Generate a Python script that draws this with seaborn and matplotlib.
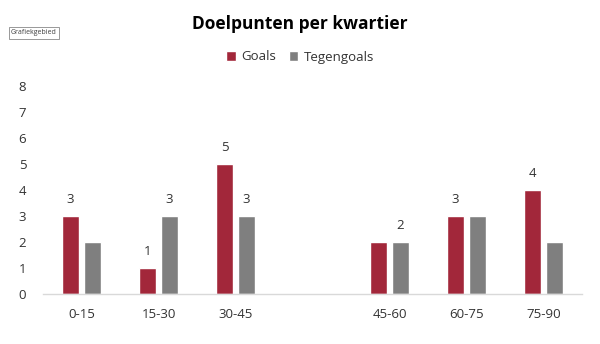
import matplotlib
matplotlib.use("Agg")
import matplotlib.pyplot as plt
import seaborn as sns
import pandas as pd
import numpy as np
from matplotlib.patches import Patch

categories = ["0-15", "15-30", "30-45", "", "45-60", "60-75", "75-90"]
goals = [3, 1, 5, np.nan, 2, 3, 4]
tegengoals = [2, 3, 3, np.nan, 2, 3, 2]
goals_labels = ["3", "1", "5", "", "", "3", "4"]
tegen_labels = ["", "3", "3", "", "2", "", ""]
yticks = [0, 1, 2, 3, 4, 5, 6, 7, 8]

sns.set_theme(style="white")
plt.rcParams["font.family"] = ["Open Sans", "DejaVu Sans"]

red = "#A2273A"
gray = "#7F7F7F"
txt = "#333333"

df = pd.DataFrame({
    "cat": categories * 2,
    "val": goals + tegengoals,
    "serie": ["Goals"] * len(categories) + ["Tegengoals"] * len(categories),
})

fig = plt.figure(figsize=(6.0, 3.44), dpi=100)
ax = fig.add_axes([43 / 600, 50 / 344, 539 / 600, 208 / 344])

sns.barplot(data=df, x="cat", y="val", hue="serie", order=categories,
            hue_order=["Goals", "Tegengoals"], palette=[red, gray],
            width=0.57, gap=0.22, errorbar=None, ax=ax, legend=False,
            saturation=1)

for cont, labs in zip(ax.containers, [goals_labels, tegen_labels]):
    for bar in cont:
        if bar is None:
            continue
        xc = bar.get_x() + bar.get_width() / 2
        idx = int(round(xc))
        if 0 <= idx < len(labs) and labs[idx]:
            ax.annotate(labs[idx], (xc, bar.get_height()), xytext=(0, 7),
                        textcoords="offset points", ha="center", va="bottom",
                        fontsize=9.5, color=txt)

ax.set_xlim(-0.5, len(categories) - 0.5)
ax.set_ylim(0, 8)
ax.set_yticks(yticks)
ax.set_yticklabels([str(t) for t in yticks])
ax.set_xlabel("")
ax.set_ylabel("")
for s in ["top", "right", "left"]:
    ax.spines[s].set_visible(False)
ax.spines["bottom"].set_color("#D9D9D9")
ax.spines["bottom"].set_linewidth(1)
ax.tick_params(axis="both", length=0, labelsize=9.5, colors=txt)
ax.tick_params(axis="y", pad=12)
ax.tick_params(axis="x", pad=10)

fig.text(0.5, 1 - 24 / 344, "Doelpunten per kwartier", ha="center", va="center",
         fontsize=12.5, fontweight="bold", color="black")

handles = [Patch(facecolor=red, label="Goals"), Patch(facecolor=gray, label="Tegengoals")]
fig.legend(handles=handles, loc="center", bbox_to_anchor=(0.5, 1 - 57 / 344), ncol=2,
           frameon=False, fontsize=9.5, handlelength=0.7, handleheight=0.7,
           handletextpad=0.4, columnspacing=1.0, labelcolor=txt)

fig.text(34 / 600, 1 - 33 / 344, "Grafiekgebied", ha="center", va="center",
         fontsize=5, color="#404040",
         bbox=dict(boxstyle="square,pad=0.35", facecolor="white", edgecolor="#888888", linewidth=0.6))

fig.savefig("out.png", dpi=100)
